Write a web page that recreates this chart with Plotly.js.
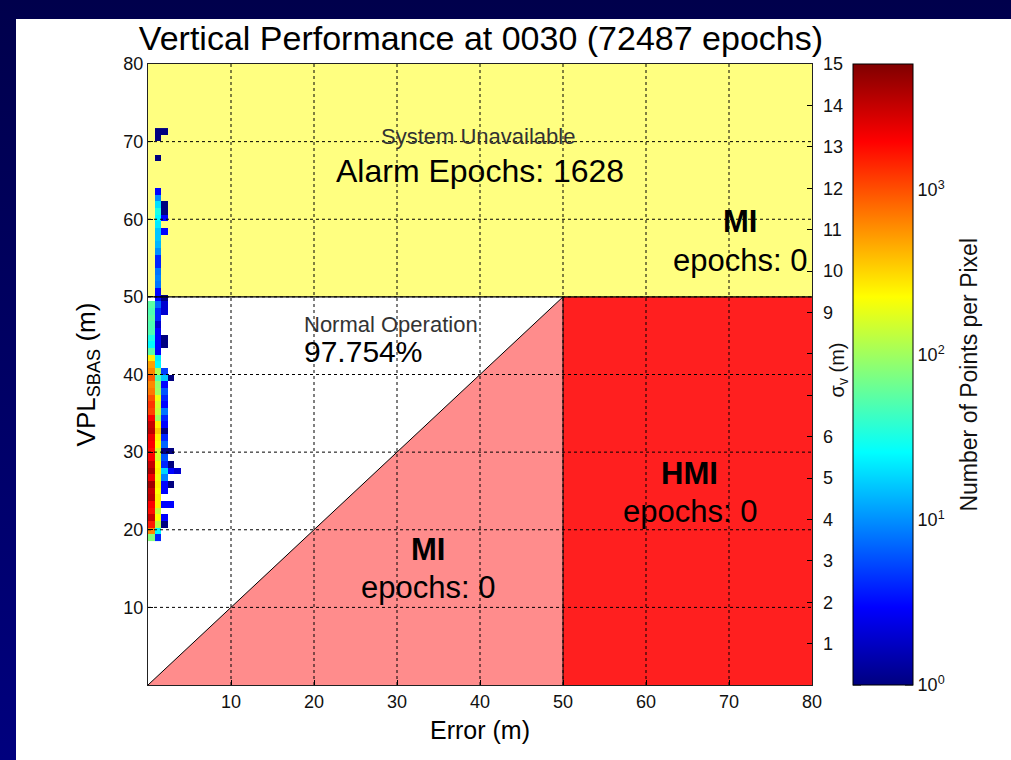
<!DOCTYPE html>
<html><head><meta charset="utf-8">
<script src="https://cdn.plot.ly/plotly-3.0.1.min.js"></script>
<style>
html,body{margin:0;padding:0;width:1011px;height:760px;overflow:hidden;background:linear-gradient(to bottom,#00004c,#00007e);}
#chart{position:absolute;left:16px;top:19px;width:995px;height:741px;background:#fff;}
</style></head><body><div id="chart"></div>
<script>
// ---- data ----
// error bins (m): bin centres of the 2-D histogram columns
const errorBins = [0.4, 1.2, 2.0, 2.8, 3.6];
// VPL bins (m): first bin start and bin height
const vplStart = 18.55;
const vplStep = 0.858;
const vplBinCount = 62;
// counts per pixel, one array per error column, index 0 = lowest VPL bin
const col1 = [80,630,1580,3160,1780,2000,3550,3160,4470,2240,3980,3160,2000,1780,2000,2240,3550,3160,2000,1120,1260,1000,710,630,890,630,500,250,56,25,32,50,50,56,50,56];
const col2 = [4,25,126,224,141,251,251,224,251,200,251,224,158,158,224,251,355,251,100,141,158,200,100,89,50,112,25,22,3,3,3,3,2,4,4,7,3,3,8,9,8,4,4,10,14,16,16,22,25,32,20,10,3,null,null,null,null,1,null,null,1,1];
const col3 = {2:1,3:3,5:3,7:3,8:3,9:9,10:18,11:4,12:6,13:1,14:7,15:4,16:1,17:3,18:4,19:8,20:3,21:4,22:6,23:3,24:16,25:5,29:1,30:1,34:2,35:2,36:1,46:3,48:3,49:1,50:1,61:1};
const col4 = {5:3,8:1,10:3,11:1,13:1,24:1};
const col5 = {10:2};
const alertLimit = 50;
const axisMax = 80;
const sigmaMax = 15;
const colorMaxLog = 3.764;
const tickVals = [10,20,30,40,50,60,70,80];
const sigmaLabels = [1,2,3,4,5,6,9,10,11,12,13,14,15];
const cbDecades = [0,1,2,3];

// ---- build heatmap matrix ----
function toArr(c){ const a=[]; for(let i=0;i<vplBinCount;i++){ const v=c[i]; a.push(v===undefined?null:v); } return a; }
const cols = [col1,col2,col3,col4,col5].map(toArr);
const vplCentres = [];
for(let k=0;k<vplBinCount;k++) vplCentres.push(vplStart + vplStep*(k+0.5));
const z = vplCentres.map((_,k)=>cols.map(c=>{const v=c[k]; return v===null?null:Math.log10(v);}));

const jet = [[0,'#000080'],[0.125,'#0000ff'],[0.375,'#00ffff'],[0.625,'#ffff00'],[0.875,'#ff0000'],[1,'#800000']];

const FONT = 'Arial, "Liberation Sans", sans-serif';

const heat = {
  type:'heatmap', x:errorBins, y:vplCentres, z:z, zmin:0, zmax:colorMaxLog,
  colorscale:jet, hoverinfo:'skip', zsmooth:false,
  colorbar:{
    x:1.0617, xanchor:'left', xpad:0, y:0, yanchor:'bottom', ypad:0,
    len:1, lenmode:'fraction', thickness:60, thicknessmode:'pixels',
    outlinewidth:1, outlinecolor:'#000',
    tickmode:'array', tickvals:cbDecades, ticktext:cbDecades.map(d=>'10<sup>'+d+'</sup>'),
    ticks:'', tickfont:{family:FONT,size:18,color:'#111'}
  }
};
// invisible trace to activate sigma axis
const sigmaTrace = {type:'scatter', x:[0], y:[0], yaxis:'y2', mode:'markers', marker:{opacity:0}, hoverinfo:'skip', showlegend:false};

const shapes = [];
// regions
shapes.push({type:'rect', xref:'x', yref:'y', x0:0, x1:axisMax, y0:alertLimit, y1:axisMax, fillcolor:'#ffff80', line:{width:0}, layer:'below'});
shapes.push({type:'path', xref:'x', yref:'y', path:`M 0 0 L ${alertLimit} ${alertLimit} L ${alertLimit} 0 Z`, fillcolor:'#ff8c8c', line:{width:0}, layer:'below'});
shapes.push({type:'rect', xref:'x', yref:'y', x0:alertLimit, x1:axisMax, y0:0, y1:alertLimit, fillcolor:'#ff1f1f', line:{width:0}, layer:'below'});
// grid (dotted, above heatmap)
tickVals.filter(v=>v<axisMax).forEach(v=>{
  shapes.push({type:'line', xref:'x', yref:'y', x0:v, x1:v, y0:0, y1:axisMax, line:{color:'#000', width:1, dash:'3px,3px'}, layer:'above'});
  shapes.push({type:'line', xref:'x', yref:'y', x0:0, x1:axisMax, y0:v, y1:v, line:{color:'#000', width:1, dash:'3px,3px'}, layer:'above'});
});
// boundaries
shapes.push({type:'line', xref:'x', yref:'y', x0:0, y0:0, x1:alertLimit, y1:alertLimit, line:{color:'#000', width:1}, layer:'above'});
shapes.push({type:'line', xref:'x', yref:'y', x0:alertLimit, y0:0, x1:alertLimit, y1:alertLimit, line:{color:'#000', width:1}, layer:'above'});
shapes.push({type:'line', xref:'x', yref:'y', x0:0, y0:alertLimit, x1:axisMax, y1:alertLimit, line:{color:'#000', width:1.3}, layer:'above'});
// colorbar ticks (major and log minor), both edges
const cbL = 1.0617, cbR = 1.0617 + 60/664;
const majLen = 8/664, minLen = 4/664;
function cbTick(v,len){
  const yy = v/colorMaxLog;
  shapes.push({type:'line', xref:'paper', yref:'paper', x0:cbL, x1:cbL+len, y0:yy, y1:yy, line:{color:'#000', width:1}});
  shapes.push({type:'line', xref:'paper', yref:'paper', x0:cbR-len, x1:cbR, y0:yy, y1:yy, line:{color:'#000', width:1}});
}
cbDecades.forEach(d=>{
  cbTick(d, majLen);
  for(let m=2;m<=9;m++){ const v=d+Math.log10(m); if(v<colorMaxLog) cbTick(v,minLen); }
});

const ann = (x,y,text,size,opts={}) => Object.assign({xref:'x', yref:'y', x:x, y:y, text:text, showarrow:false, font:{family:FONT,size:size,color:'#000'}}, opts);
const annotations = [
  ann(39.8,70.6,'System Unavailable',22,{font:{family:FONT,size:22,color:'#333'}}),
  ann(40.0,66.25,'Alarm Epochs: 1628',32),
  ann(18.5,46.4,'Normal Operation',22,{xanchor:'left', font:{family:FONT,size:22,color:'#333'}}),
  ann(18.5,42.9,'97.754%',30,{xanchor:'left'}),
  ann(71.3,59.7,'<b>MI</b>',31),
  ann(71.3,54.75,'epochs: 0',31),
  ann(65.2,27.3,'<b>HMI</b>',31),
  ann(65.3,22.3,'epochs: 0',31),
  ann(33.7,17.4,'<b>MI</b>',31),
  ann(33.7,12.5,'epochs: 0',31),
  {xref:'paper', yref:'y2', x:1.0392, y:7.6, xanchor:'center', yanchor:'middle', text:'σ<sub>v</sub> (m)', textangle:-90, showarrow:false, font:{family:FONT,size:20,color:'#111'}},
  {xref:'paper', yref:'paper', x:1.235, y:0.5, xanchor:'center', yanchor:'middle', text:'Number of Points per Pixel', textangle:-90, showarrow:false, font:{family:FONT,size:23,color:'#111'}}
];

const layout = {
  width:995, height:741,
  margin:{l:132, r:199, t:45, b:75},
  paper_bgcolor:'#fff', plot_bgcolor:'#fff',
  showlegend:false,
  title:{text:'Vertical Performance at 0030 (72487 epochs)', x:0.4673, xref:'container', xanchor:'center', y:0.974, yref:'container', yanchor:'middle', font:{family:FONT,size:34,color:'#000'}},
  xaxis:{range:[0,axisMax], tickmode:'array', tickvals:tickVals, ticks:'inside', ticklen:5, tickcolor:'#000',
         showgrid:false, zeroline:false, showline:true, linecolor:'#222', mirror:true,
         tickfont:{family:FONT,size:18,color:'#111'},
         title:{text:'Error (m)', font:{family:FONT,size:25,color:'#000'}, standoff:10}, fixedrange:true},
  yaxis:{range:[0,axisMax], tickmode:'array', tickvals:tickVals, ticks:'inside', ticklen:5, tickcolor:'#000',
         showgrid:false, zeroline:false, showline:true, linecolor:'#222', mirror:true,
         tickfont:{family:FONT,size:18,color:'#111'},
         title:{text:'VPL<sub>SBAS</sub> (m)', font:{family:FONT,size:26,color:'#000'}, standoff:20}, fixedrange:true},
  yaxis2:{range:[0,sigmaMax], overlaying:'y', side:'right', anchor:'x', tickmode:'array', tickvals:sigmaLabels,
          ticks:'inside', ticklen:5, tickcolor:'#000', ticklabelstandoff:10,
          minor:{tick0:0, dtick:1, ticks:'inside', ticklen:5, tickcolor:'#000', showgrid:false},
          showgrid:false, zeroline:false, showline:false, tickfont:{family:FONT,size:18,color:'#111'}, fixedrange:true},
  shapes:shapes, annotations:annotations
};
Plotly.newPlot('chart',[heat, sigmaTrace],layout,{displayModeBar:false, staticPlot:true});
</script></body></html>
